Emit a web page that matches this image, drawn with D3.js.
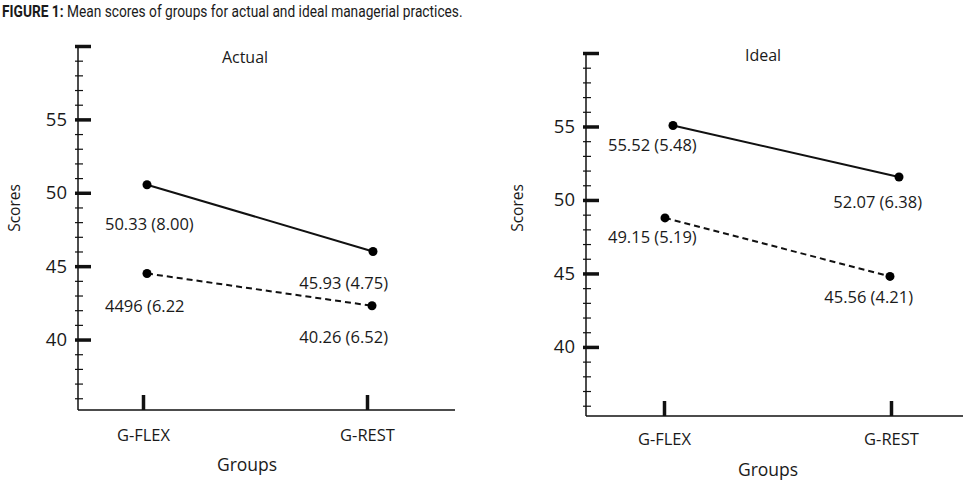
<!DOCTYPE html>
<html>
<head>
<meta charset="utf-8">
<script src="https://cdn.jsdelivr.net/npm/d3@7"></script>
<style>
  body { margin: 0; background: #fff; }
  svg text { font-family: "Open Sans", sans-serif; fill: #1a1a1a; }
</style>
</head>
<body>
<div id="viz"></div>
<script>
// data
const groups = ['G-FLEX', 'G-REST'];
const actualSolid = [50.55, 46.0];   // as plotted
const actualDashed = [44.5, 42.3];
const idealSolid = [55.07, 51.56];
const idealDashed = [48.78, 44.8];
const actualSolidLabels = ['50.33 (8.00)', '45.93 (4.75)'];
const actualDashedLabels = ['4496 (6.22', '40.26 (6.52)'];
const idealSolidLabels = ['55.52 (5.48)', '52.07 (6.38)'];
const idealDashedLabels = ['49.15 (5.19)', '45.56 (4.21)'];
const majorTicks = [40, 45, 50, 55, 60];
const minorTicks = d3.range(36, 61);

const width = 966, height = 482;

const svg = d3.select('#viz').append('svg')
  .attr('width', width)
  .attr('height', height);

// figure caption, squeezed horizontally to mimic the condensed face
const capG = svg.append('g');
const cap = capG.append('text')
  .style('font-family', 'Roboto, sans-serif')
  .style('font-size', '17px');
cap.append('tspan').style('font-weight', 'bold').text('FIGURE 1:');
cap.append('tspan').text(' Mean scores of groups for actual and ideal managerial practices.');
const capLen = cap.node().getComputedTextLength();
capG.attr('transform', `translate(2,17) scale(${461 / capLen},1)`);

function drawPanel(p) {
  const y = d3.scaleLinear().domain([p.yMin, 60]).range([p.bottom, p.top]);
  const x = d3.scalePoint().domain(groups).range([p.left + p.tickA, p.left + p.tickB]);
  const g = svg.append('g');

  // minor ticks, crossing the axis
  g.append('g')
    .attr('transform', `translate(${p.left - 3},0)`)
    .call(d3.axisLeft(y).tickValues(minorTicks).tickSizeInner(-8).tickSizeOuter(0).tickFormat(''))
    .call(a => a.select('.domain').remove())
    .call(a => a.selectAll('line').attr('stroke', '#111').attr('stroke-width', 1.2));

  // major ticks + labels
  g.append('g')
    .attr('transform', `translate(${p.left - 3},0)`)
    .call(d3.axisLeft(y).tickValues(majorTicks).tickSizeInner(-16).tickSizeOuter(0).tickPadding(8)
      .tickFormat(d => d === 60 ? '' : d))
    .call(a => a.select('.domain').remove())
    .call(a => a.selectAll('line').attr('stroke', '#111').attr('stroke-width', 3.5))
    .call(a => a.selectAll('text').style('font-size', '18.5px').attr('fill', '#1a1a1a')
      .style('font-family', '"Open Sans", sans-serif'));

  // y axis line
  g.append('line')
    .attr('x1', p.left).attr('x2', p.left)
    .attr('y1', y(60)).attr('y2', p.bottom)
    .attr('stroke', '#111').attr('stroke-width', 1.5);

  // x axis
  g.append('g')
    .attr('transform', `translate(0,${p.bottom})`)
    .call(d3.axisBottom(x).tickSizeInner(-15).tickSizeOuter(0).tickPadding(p.xPad))
    .call(a => a.select('.domain').remove())
    .call(a => a.selectAll('line').attr('stroke', '#111').attr('stroke-width', 3.5))
    .call(a => a.selectAll('text').style('font-size', '16.5px').attr('fill', '#1a1a1a')
      .style('font-family', '"Open Sans", sans-serif'));
  g.append('line')
    .attr('x1', p.left).attr('x2', p.right)
    .attr('y1', p.bottom).attr('y2', p.bottom)
    .attr('stroke', '#111').attr('stroke-width', 1.5);

  // axis titles
  g.append('text')
    .attr('transform', `translate(${p.scoresX},208)rotate(-90)`)
    .attr('text-anchor', 'middle').attr('dy', '0.35em')
    .style('font-size', '15.5px')
    .text('Scores');
  g.append('text')
    .attr('x', p.groupsX).attr('y', p.groupsY)
    .attr('text-anchor', 'middle').attr('dy', '0.35em')
    .style('font-size', '17.5px')
    .text('Groups');
  g.append('text')
    .attr('x', p.titleX).attr('y', p.titleY)
    .attr('text-anchor', 'middle').attr('dy', '0.35em')
    .style('font-size', '16px')
    .text(p.title);

  // series
  p.series.forEach(s => {
    const pts = groups.map((grp, i) => ({ x: x(grp) + s.dx[i], y: y(s.values[i]), label: s.labels[i], i }));
    g.append('path')
      .attr('d', d3.line().x(d => d.x).y(d => d.y)(pts))
      .attr('fill', 'none')
      .attr('stroke', '#111')
      .attr('stroke-width', 2)
      .attr('stroke-dasharray', s.dash);
    g.selectAll(null).data(pts).enter().append('circle')
      .attr('cx', d => d.x).attr('cy', d => d.y)
      .attr('r', 4.5).attr('fill', '#000');
    g.selectAll(null).data(pts).enter().append('text')
      .attr('x', d => d.x + s.ldx[d.i])
      .attr('y', d => d.y + s.ldy[d.i])
      .attr('dy', '0.35em')
      .attr('text-anchor', d => d.i === 0 ? 'start' : 'end')
      .style('font-size', '16.5px')
      .text(d => d.label);
  });
}

drawPanel({
  left: 78, right: 455, top: 46, bottom: 410, yMin: 35.2,
  tickA: 65, tickB: 289, xPad: 19,
  scoresX: 15, groupsX: 247, groupsY: 465, titleX: 245, titleY: 57, title: 'Actual',
  series: [
    { values: actualSolid, labels: actualSolidLabels, dash: null, dx: [4, 6], ldx: [-42, 15], ldy: [40, 32] },
    { values: actualDashed, labels: actualDashedLabels, dash: '6,4', dx: [4, 5], ldx: [-42, 16], ldy: [33, 31] }
  ]
});

drawPanel({
  left: 586, right: 963, top: 53, bottom: 416, yMin: 35.3,
  tickA: 78, tickB: 305, xPad: 17,
  scoresX: 518, groupsX: 768, groupsY: 470, titleX: 763, titleY: 55, title: 'Ideal',
  series: [
    { values: idealSolid, labels: idealSolidLabels, dash: null, dx: [9, 8], ldx: [-65, 23], ldy: [20, 25] },
    { values: idealDashed, labels: idealDashedLabels, dash: '6,4', dx: [1, -1], ldx: [-57, 23], ldy: [19, 21] }
  ]
});
</script>
</body>
</html>
